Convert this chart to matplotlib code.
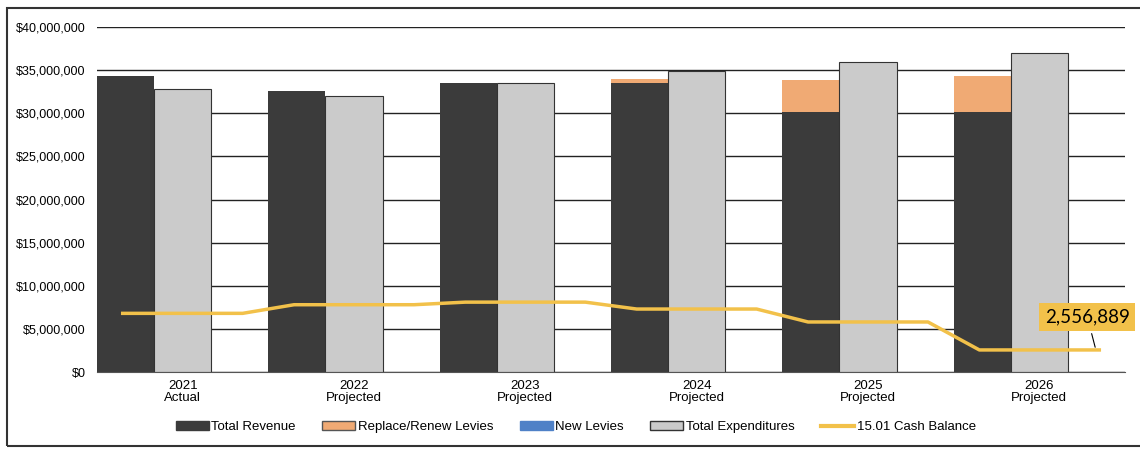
import numpy as np
import matplotlib.pyplot as plt
from matplotlib.patches import Patch, Rectangle
from matplotlib.lines import Line2D
from matplotlib.ticker import FuncFormatter

plt.rcParams['font.family'] = ['Liberation Sans', 'DejaVu Sans']

years = ["2021\nActual", "2022\nProjected", "2023\nProjected",
         "2024\nProjected", "2025\nProjected", "2026\nProjected"]
total_revenue = [34.3e6, 32.6e6, 33.5e6, 33.5e6, 30.2e6, 30.1e6]
replace_levies = [0, 0, 0, 0.5e6, 3.7e6, 4.2e6]
new_levies = [0, 0, 0, 0, 0, 0]
total_expend = [32.8e6, 32.0e6, 33.5e6, 34.9e6, 35.9e6, 37.0e6]
cash_balance = [6.8e6, 7.8e6, 8.1e6, 7.3e6, 5.8e6, 2556889]

c_dark = "#3b3b3b"
c_gray = "#cbcbcb"
c_orange = "#f0aa74"
c_blue = "#4f81c7"
c_cash = "#f2c14a"

fig = plt.figure(figsize=(11.4, 4.49), dpi=100)
ax = fig.add_axes([97/1140, 1-372/449, (1125-97)/1140, (372-27)/449])

x = np.arange(len(years))
w = 1/3
ax.bar(x - w, total_revenue, w, color=c_dark, zorder=2)
ax.bar(x - w, replace_levies, w, bottom=total_revenue, color=c_orange, zorder=2)
ax.bar(x + w, new_levies, w, color=c_blue, zorder=2)
ax.bar(x, total_expend, w, color=c_gray, edgecolor="#333333", linewidth=0.8, zorder=2)

# cash balance drawn flat across each year group
lx, ly = [], []
for i, v in enumerate(cash_balance):
    lx += [i - 0.35, i + 0.35]
    ly += [v, v]
ax.plot(lx, ly, color=c_cash, lw=2.5, zorder=3)

ax.annotate("2,556,889", xy=(5.33, cash_balance[-1]), xytext=(5.28, 6.4e6),
            ha="center", va="center", fontsize=13.5, family="Lato",
            bbox=dict(boxstyle="square,pad=0.3", fc=c_cash, ec="none"),
            arrowprops=dict(arrowstyle="-", color="black", lw=0.8),
            annotation_clip=False, zorder=5)

ax.set_xlim(-0.5, 5.5)
ax.set_ylim(0, 40e6)
ax.set_yticks(np.arange(0, 40e6 + 1, 5e6))
ax.yaxis.set_major_formatter(FuncFormatter(lambda v, p: "${:,.0f}".format(v)))
ax.set_xticks(x)
ax.set_xticklabels(years, fontsize=9.5, linespacing=1.0)
ax.tick_params(axis="both", length=0)
ax.tick_params(axis="y", pad=8, labelsize=9)
ax.tick_params(axis="x", pad=6, labelsize=9.5)
ax.grid(axis="y", color="#222222", lw=1)
ax.set_axisbelow(True)
for s in ["top", "right", "left"]:
    ax.spines[s].set_visible(False)
ax.spines["bottom"].set_color("#555555")
ax.spines["bottom"].set_linewidth(0.8)

handles = [
    Patch(fc=c_dark, ec=c_dark),
    Patch(fc=c_orange, ec="#555555"),
    Patch(fc=c_blue, ec=c_blue),
    Patch(fc=c_gray, ec="#333333"),
    Line2D([], [], color=c_cash, lw=3),
]
labels = ["Total Revenue", "Replace/Renew Levies", "New Levies",
          "Total Expenditures", "15.01 Cash Balance"]
fig.legend(handles, labels, loc="center", bbox_to_anchor=(0.505, 1-427/449),
           ncol=5, frameon=False, fontsize=9.5, handlelength=2.5,
           handleheight=0.6, handletextpad=0.2, columnspacing=2.0)

fig.patches.append(Rectangle((7/1140, 3/449), 1.0, 1-11/449, transform=fig.transFigure,
                             fill=False, ec="#333333", lw=1.5))

fig.savefig("out.png", dpi=100)
